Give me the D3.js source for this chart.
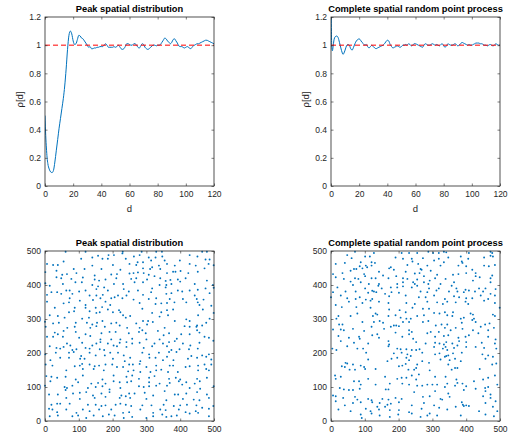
<!DOCTYPE html>
<html>
<head>
<meta charset="utf-8">
<script src="https://cdn.jsdelivr.net/npm/d3@7"></script>
<style>
  body { margin: 0; background: #fff; }
  svg text { font-family: "Liberation Sans", Arial, Helvetica, sans-serif; }
</style>
</head>
<body>
<svg id="fig" width="514" height="437"></svg>
<script>
// ---- pair correlation function, peak spatial distribution ----
const peakD = [0,0.5,1,1.5,2,3,4,5,6,7,8,9,10,11,12,13,14,15,16,17,18,19,20,21,22,23,24,25,26,27,28,29,30,
  31,32,33,34,35,36,37,38,39,40,41,42,43,44,45,46,47,48,49,50,51,52,53,54,55,56,57,58,59,60,
  61,62,63,64,65,66,67,68,69,70,71,72,73,74,75,76,77,78,79,80,81,82,83,84,85,86,87,88,89,90,
  91,92,93,94,95,96,97,98,99,100,101,102,103,104,105,106,107,108,109,110,111,112,113,114,115,116,117,118,119,120];
const peakRho = [0.5,0.36,0.27,0.2,0.16,0.12,0.1,0.095,0.11,0.17,0.25,0.33,0.41,0.48,0.55,0.62,0.71,0.83,0.97,1.07,1.1,1.08,1.03,1.005,1.01,1.04,1.07,1.065,1.05,1.045,1.03,1.015,1.0,
  0.985,0.99,0.975,0.975,0.98,0.98,0.985,0.985,0.99,0.99,0.99,1.0,1.01,1.0,0.985,0.985,0.985,0.985,0.99,0.985,0.99,1.0,0.99,0.975,0.97,0.975,0.99,1.01,1.01,1.005,
  1.0,1.0,1.01,1.01,1.0,0.985,0.98,0.995,1.01,1.005,0.985,0.975,0.97,0.975,0.985,0.995,1.0,1.0,0.995,1.0,1.0,1.005,1.02,1.035,1.05,1.045,1.03,1.02,1.01,1.02,
  1.04,1.045,1.03,1.015,0.995,0.99,0.99,0.985,0.98,0.985,0.99,0.985,0.975,0.98,0.99,1.0,1.005,1.01,1.01,1.015,1.02,1.025,1.03,1.035,1.035,1.03,1.025,1.02,1.015,1.01];

// ---- pair correlation function, complete spatial random process ----
const csrD = [0,0.5,1,1.5,2,3,4,5,6,7,8,8.5,9,10,11,12,13,14,15,16,17,18,19,20,21,22,23,24,25,26,27,28,29,30,
  31,32,33,34,35,36,37,38,39,40,41,42,43,44,45,46,47,48,49,50,51,52,53,54,55,56,57,58,59,60,
  61,62,63,64,65,66,67,68,69,70,71,72,73,74,75,76,77,78,79,80,81,82,83,84,85,86,87,88,89,90,
  91,92,93,94,95,96,97,98,99,100,101,102,103,104,105,106,107,108,109,110,111,112,113,114,115,116,117,118,119,120];
const csrRho = [1.45,1.0,0.96,0.99,1.03,1.06,1.065,1.055,1.02,0.98,0.945,0.935,0.94,0.965,0.995,1.005,1.0,0.975,0.965,0.985,1.01,1.03,1.04,1.045,1.035,1.02,1.01,1.0,1.005,0.99,0.98,0.99,1.0,0.99,
  0.98,0.975,0.98,0.985,0.99,0.995,1.0,1.01,1.025,1.035,1.03,1.005,0.99,0.98,0.985,0.99,0.995,0.99,0.985,0.99,1.0,1.0,1.005,1.0,1.01,1.005,0.995,1.0,1.01,1.01,
  1.005,1.0,0.995,0.99,0.985,1.0,1.01,1.005,1.0,1.0,1.005,1.01,1.005,1.0,1.005,1.0,0.995,1.005,1.01,0.995,0.985,0.995,1.01,1.005,1.0,1.0,1.005,1.01,1.005,0.995,
  1.0,1.01,1.02,1.015,1.01,1.005,1.0,1.005,1.0,1.0,1.005,1.01,1.015,1.015,1.015,1.01,1.01,1.005,1.0,1.0,0.995,1.0,1.005,1.0,0.995,1.0,1.01,1.005,1.0,1.0];

// ---- point patterns (x, y) ----
const peakPoints = [
  [61,498],[120,498],[230,498],[286,498],[329,498],[346,498],[465,498],[479,498],
  [140,481],[157,486],[188,488],[204,488],[229,493],[263,484],[280,488],[307,481],[327,481],[347,484],[428,488],[451,484],[487,475],
  [55,469],[107,477],[170,477],[186,477],[239,477],[274,467],[290,467],[314,472],[354,472],[399,472],[475,475],
  [6,462],[24,459],[38,459],[140,457],[201,459],[250,462],[270,459],[317,452],[337,457],[361,462],[384,457],[428,462],[446,457],[484,462],
  [34,442],[85,447],[117,447],[167,447],[223,445],[290,449],[311,447],[341,447],[379,439],[401,441],[452,439],[472,449],
  [51,430],[65,432],[93,435],[147,428],[196,431],[213,432],[250,434],[262,435],[275,437],[292,435],[307,430],[324,426],[361,435],[386,439],[424,435],
  [34,423],[48,420],[78,418],[112,422],[147,416],[160,413],[179,416],[211,420],[255,418],[270,420],[302,416],[341,420],[357,412],[371,415],[393,416],[416,420],[479,413],
  [14,398],[53,403],[90,408],[109,408],[140,400],[157,396],[204,403],[231,403],[265,408],[290,408],[339,400],[359,400],[374,403],[400,410],[443,403],[497,400],
  [19,379],[36,379],[63,384],[73,384],[101,381],[120,384],[152,388],[175,393],[186,384],[233,388],[248,381],[275,384],[317,390],[357,393],[393,384],[428,384],[452,386],[475,390],
  [6,371],[48,374],[81,374],[132,369],[152,369],[171,371],[216,369],[241,369],[290,371],[314,379],[359,374],[374,376],[406,381],[443,369],[487,376],
  [73,361],[103,354],[142,356],[164,361],[196,361],[206,364],[229,361],[262,357],[307,359],[329,361],[369,359],[408,359],[449,359],[469,357],
  [6,351],[55,346],[71,349],[120,341],[179,351],[193,341],[280,347],[327,344],[344,346],[361,347],[383,349],[418,349],[452,349],[457,341],[492,339],
  [29,333],[88,333],[120,333],[150,333],[169,335],
  [71,320],[86,323],[132,323],[152,318],[162,320],[186,328],[201,320],[219,326],[223,320],[288,330],[317,318],[344,320],[361,326],[379,328],[467,328],
  [14,311],[38,309],[58,304],[110,301],[130,304],[170,294],[231,311],[239,304],[252,309],[290,294],[305,294],[339,307],[364,311],[384,294],[418,299],[453,311],[487,301],
  [24,287],[41,289],[91,289],[124,289],[140,284],[154,289],[196,287],[211,289],[270,287],[302,284],[319,291],[428,294],[450,281],[465,281],[477,289],
  [2,277],[55,265],[66,274],[88,277],[134,274],[152,279],[177,277],[221,281],[243,274],[280,274],[288,267],[334,265],[354,274],[413,279],[428,277],[448,277],[450,267],
  [29,260],[38,255],[91,262],[120,255],[134,250],[167,258],[191,262],[209,262],[248,258],[278,262],[298,258],[351,252],[367,258],[403,255],[428,255],[457,260],
  [6,248],[24,248],[53,248],[101,245],[164,240],[196,240],[223,240],[241,232],[258,242],[300,240],[339,240],[390,242],[472,248],[485,245],
  [14,220],[65,228],[75,222],[110,230],[140,222],[152,228],[164,232],[186,228],[203,222],[221,230],[258,228],[280,230],[324,228],[349,228],[367,232],[384,235],[408,228],[430,222],[457,230],
  [34,215],[45,213],[55,218],[81,209],[93,211],[120,215],[132,213],[162,211],[175,209],[213,220],[241,218],[292,215],[317,220],[361,220],[374,209],[398,211],[426,211],[452,213],
  [32,201],[71,201],[85,203],[107,191],[132,201],[150,193],[177,193],[193,201],[216,201],[233,193],[288,201],[308,196],[337,201],[367,203],[389,203],[433,191],[465,193],[485,196],
  [16,179],[45,186],[71,186],[104,183],[117,183],[201,183],[236,176],[252,186],[282,176],[309,186],[327,186],[349,179],[361,189],[380,179],[423,183],[450,186],[477,189],[492,181],
  [2,166],[22,163],[88,161],[103,163],[110,168],[132,166],[147,161],[160,163],[179,166],[199,166],[213,159],[231,159],[249,166],[260,166],[280,168],[300,159],[329,163],[369,163],[379,163],[416,159],[428,161],[453,163],[472,166],[492,166],
  [63,149],[112,153],[144,153],[174,149],[246,146],[262,149],[282,144],[312,144],[329,149],[344,151],[364,144],[393,144],[453,149],[477,153],[485,149],
  [4,132],[19,130],[36,127],[61,130],[91,122],[112,134],[170,122],[203,134],[241,130],[258,134],[278,124],[308,127],[324,132],[367,124],[387,127],[400,122],[450,124],[479,127],
  [16,117],[98,114],[137,110],[157,112],[179,110],[203,117],[221,114],[243,114],[255,117],[308,114],[339,110],[369,112],[396,117],[418,114],[443,110],[458,117],
  [58,100],[65,97],[81,104],[127,97],[150,100],[170,102],[191,93],[223,97],[278,102],[292,100],[308,102],[329,104],[361,104],[406,107],[428,97],[459,95],
  [12,78],[38,78],[61,91],[83,81],[103,83],[122,85],[142,75],[167,81],[191,85],[226,75],[239,73],[249,81],[265,81],[295,83],[320,75],[354,88],[384,78],[394,78],[418,81],[450,85],[479,78],
  [63,68],[103,65],[147,68],[179,71],[221,68],[252,68],[300,65],[359,61],[408,65],[440,63],[457,61],[485,68],
  [19,48],[36,51],[45,51],[73,51],[127,48],[150,48],[167,44],[179,46],[209,48],[223,51],[239,48],[255,44],[288,46],[315,46],[351,48],[381,44],[400,46],[420,48],[448,46],
  [12,36],[22,34],[36,26],[63,34],[93,24],[112,34],[132,29],[160,34],[196,34],[231,24],[249,26],[282,34],[320,24],[341,34],[357,32],[396,34],[416,26],[446,29],[465,39],[485,36],
  [14,14],[38,16],[81,14],[98,16],[122,9],[144,16],[171,14],[189,19],[206,16],[233,9],[258,12],[300,9],[320,14],[347,19],[359,12],[374,14],[390,16],[428,22],[453,24],[485,14],
  [1,438],[1,405],[0,292],[1,196],[0,104],[499,458],[499,392],[499,318],[498,236],[499,102],[498,44]
];

const csrPoints = [
  [71,498],[127,494],[209,494],[231,494],[255,494],[288,498],[302,494],[319,494],[334,498],[341,496],[408,494],[472,498],[477,494],
  [48,488],[61,479],[101,484],[115,484],[191,481],[213,477],[239,477],[272,479],[319,477],[347,481],[384,484],[453,481],[472,486],[479,484],
  [14,462],[41,465],[88,467],[103,457],[120,467],[130,465],[241,469],[258,462],[305,472],[334,467],[387,469],[389,465],[406,477],[485,459],
  [68,447],[75,447],[85,455],[93,449],[107,452],[120,457],[172,449],[177,452],[226,459],[265,447],[285,457],[324,457],[377,457],[400,455],[418,445],[453,457],[467,455],
  [6,432],[34,435],[58,442],[98,432],[142,439],[154,428],[186,445],[221,439],[248,434],[262,435],[268,445],[295,442],[314,430],[377,432],[400,435],[428,435],[477,428],
  [14,423],[38,418],[71,420],[81,418],[101,426],[120,420],[132,420],[170,420],[193,426],[213,420],[226,418],[255,416],[275,426],[292,413],[308,420],[339,418],[361,430],[428,426],[440,423],[472,420],
  [58,410],[88,408],[112,403],[142,403],[196,403],[213,408],[243,408],[248,403],[275,408],[288,403],[324,403],[364,408],[420,413],[472,408],
  [19,393],[65,400],[101,390],[122,383],[140,398],[150,390],[177,393],[196,393],[213,396],[239,393],[255,398],[290,390],[319,390],[357,398],[371,390],[398,386],[438,390],[457,390],[487,388],
  [6,379],[43,381],[73,381],[110,377],[127,381],[134,379],[160,374],[179,379],[201,377],[265,381],[285,379],[312,384],[349,381],[374,381],[393,379],[408,384],[426,381],[450,381],[472,374],
  [0,364],[29,369],[48,361],[73,359],[85,364],[103,357],[122,359],[172,367],[221,369],[260,364],[280,364],[305,369],[337,359],[364,367],[379,364],[400,361],[418,361],[443,369],[465,359],[485,369],
  [14,341],[53,351],[93,347],[117,354],[142,351],[170,347],[223,347],[248,344],[285,351],[314,349],[331,344],[344,351],[369,349],[398,351],[406,344],[453,354],[485,347],
  [32,335],[75,335],[117,333],[172,328],[203,326],[221,320],[241,333],[272,330],[290,330],[305,318],[321,316],[337,320],[361,320],[413,316],[420,313],[479,313],[499,333],
  [16,301],[22,309],[58,309],[78,316],[124,309],[132,316],[137,313],[170,309],[191,311],[206,304],[223,301],[236,301],[255,309],[275,311],[344,311],[359,309],[384,301],[393,304],[423,301],[485,309],
  [24,284],[34,284],[93,291],[127,291],[144,294],[154,289],[186,281],[213,291],[231,291],[272,291],[288,294],[310,281],[327,284],[344,284],[387,289],[418,297],[428,291],[456,284],[469,287],
  [6,269],[29,269],[38,267],[65,271],[98,265],[120,277],[157,271],[177,277],[193,281],[201,279],[231,267],[239,262],[295,262],[319,262],[337,274],[354,267],[369,274],[389,271],[420,267],[443,277],[465,267],[482,274],
  [22,250],[53,245],[83,248],[85,242],[122,252],[137,255],[142,245],[191,260],[211,248],[231,255],[243,242],[285,258],[308,248],[334,250],[347,252],[377,245],[398,248],[408,252],[436,258],[465,248],[487,240],
  [29,235],[68,230],[110,228],[170,235],[172,225],[252,232],[280,228],[308,230],[321,228],[334,225],[341,232],[359,228],[379,235],[400,232],[446,230],[485,228],
  [4,213],[48,220],[78,213],[95,213],[170,220],[196,213],[206,211],[223,211],[239,209],[252,209],[262,211],[305,218],[331,213],[339,218],[344,209],[364,215],[374,222],[400,218],[428,218],[453,215],[489,213],
  [16,209],[104,201],[186,199],[209,201],[226,196],[236,191],[270,201],[308,196],[321,199],[341,191],[347,193],[361,199],[387,201],[448,196],[465,193],
  [43,171],[110,181],[167,176],[179,183],[196,186],[223,186],[231,179],[270,176],[290,171],[324,181],[337,189],[351,179],[367,183],[384,176],[457,183],[479,189],
  [32,161],[41,159],[48,169],[55,151],[65,166],[71,151],[88,163],[98,159],[101,153],[132,153],[201,161],[211,163],[221,168],[229,151],[246,151],[252,156],[255,166],[292,149],[347,166],[357,151],[367,156],[374,156],[440,153],[477,166],[489,169],
  [12,134],[14,124],[29,130],[68,117],[83,117],[110,124],[160,130],[196,124],[209,127],[223,127],[239,134],[252,122],[260,137],[308,130],[339,130],[371,122],[374,112],[389,110],[423,117],[450,122],[465,127],[485,134],
  [88,107],[132,107],[174,110],[211,110],[231,107],[255,104],[270,104],[285,107],[300,107],[314,107],[344,110],[367,104],[400,102],[456,97],[465,100],[492,107],
  [6,75],[26,97],[38,93],[53,91],[65,91],[85,95],[162,93],[170,93],[246,85],[308,88],[337,100],[347,81],[393,91],[428,95],[457,88],[472,78],
  [14,73],[36,68],[71,71],[78,63],[110,65],[120,61],[152,65],[170,63],[191,68],[209,65],[272,71],[292,73],[324,65],[351,71],[387,55],[450,73],[472,68],
  [14,58],[41,46],[65,53],[88,55],[122,55],[144,53],[167,48],[177,51],[201,55],[239,46],[275,53],[305,46],[329,63],[390,48],[400,46],[408,44],[457,53],[487,58],
  [22,34],[58,29],[103,36],[117,29],[137,42],[142,34],[160,42],[174,32],[201,32],[231,26],[268,36],[320,39],[344,34],[369,42],[393,44],[438,29],[479,42],[492,29],
  [88,19],[91,9],[120,22],[144,16],[174,12],[199,19],[239,22],[265,12],[285,16],[292,22],[314,16],[384,16],[457,19],[482,14]
];

// ---- ticks, titles, reference level ----
const pcfXTicks = [0, 20, 40, 60, 80, 100, 120];
const pcfYTicks = [0, 0.2, 0.4, 0.6, 0.8, 1, 1.2];
const fieldTicks = [0, 100, 200, 300, 400, 500];
const titles = ["Peak spatial distribution", "Complete spatial random point process"];
const refLevel = [1];

const BLUE = "#0072BD";
const AX = "#262626";
const svg = d3.select("#fig");
svg.append("rect").attr("width", 514).attr("height", 437).attr("fill", "#fff");

// axes box with inward ticks on all four sides
function drawAxes(g, x, y, xt, yt, w, h) {
  const ts = 2.5;
  const fmt = d => String(d);
  const style = sel => {
    sel.select(".domain").remove();
    sel.selectAll(".tick line").attr("stroke", AX).attr("stroke-width", 0.6);
    sel.selectAll(".tick text").attr("fill", AX).attr("font-size", 8.5)
       .attr("font-family", '"Liberation Sans", Arial, sans-serif');
  };
  g.append("g").attr("transform", `translate(0,${h})`)
    .call(d3.axisBottom(x).tickValues(xt).tickFormat(fmt).tickSizeInner(-ts).tickSizeOuter(0).tickPadding(5))
    .call(style);
  g.append("g")
    .call(d3.axisLeft(y).tickValues(yt).tickFormat(fmt).tickSizeInner(-ts).tickSizeOuter(0).tickPadding(4))
    .call(style);
  g.append("g")
    .call(d3.axisTop(x).tickValues(xt).tickFormat("").tickSizeInner(-ts).tickSizeOuter(0))
    .call(style);
  g.append("g").attr("transform", `translate(${w},0)`)
    .call(d3.axisRight(y).tickValues(yt).tickFormat("").tickSizeInner(-ts).tickSizeOuter(0))
    .call(style);
  g.append("rect").attr("width", w).attr("height", h)
    .attr("fill", "none").attr("stroke", AX).attr("stroke-width", 0.8);
}

function title(g, w, text) {
  g.append("text").attr("x", w / 2).attr("y", -5).attr("text-anchor", "middle")
    .attr("font-weight", "bold").attr("font-size", 9.3).attr("fill", "#000").text(text);
}

// pair correlation panels
function pcfPanel(left, top, dArr, rArr, ttl, id) {
  const w = 169, h = 169;
  const g = svg.append("g").attr("transform", `translate(${left},${top})`);
  const x = d3.scaleLinear().domain([0, 120]).range([0, w]);
  const y = d3.scaleLinear().domain([0, 1.2]).range([h, 0]);
  g.append("clipPath").attr("id", id).append("rect").attr("width", w).attr("height", h);
  const pts = dArr.map((d, i) => [d, rArr[i]]);
  g.append("path").datum(pts)
    .attr("clip-path", `url(#${id})`)
    .attr("fill", "none").attr("stroke", BLUE).attr("stroke-width", 1)
    .attr("d", d3.line().x(p => x(p[0])).y(p => y(p[1])).curve(d3.curveMonotoneX));
  g.selectAll("line.ref").data(refLevel).join("line").attr("class", "ref")
    .attr("x1", 0).attr("x2", w).attr("y1", d => y(d)).attr("y2", d => y(d))
    .attr("stroke", "#ff0000").attr("stroke-width", 1).attr("stroke-dasharray", "5,3");
  drawAxes(g, x, y, pcfXTicks, pcfYTicks, w, h);
  title(g, w, ttl);
  g.append("text").attr("x", w / 2).attr("y", h + 26).attr("text-anchor", "middle")
    .attr("font-size", 9.5).attr("fill", AX).text("d");
  g.append("text").attr("transform", `translate(-22,${h / 2 - 2}) rotate(-90)`)
    .attr("text-anchor", "middle").attr("font-size", 9.5).attr("fill", AX).text("ρ[d]");
}

// point pattern panels
function fieldPanel(left, top, pts, ttl) {
  const w = 169, h = 170;
  const g = svg.append("g").attr("transform", `translate(${left},${top})`);
  const x = d3.scaleLinear().domain([0, 500]).range([0, w]);
  const y = d3.scaleLinear().domain([0, 500]).range([h, 0]);
  g.selectAll("circle").data(pts).join("circle")
    .attr("cx", p => x(p[0])).attr("cy", p => y(p[1])).attr("r", 0.95)
    .attr("fill", BLUE);
  drawAxes(g, x, y, fieldTicks, fieldTicks, w, h);
  title(g, w, ttl);
}

pcfPanel(45, 17, peakD, peakRho, titles[0], "clipA");
pcfPanel(331, 17, csrD, csrRho, titles[1], "clipB");
fieldPanel(45, 251, peakPoints, titles[0]);
fieldPanel(331, 251, csrPoints, titles[1]);
</script>
</body>
</html>
